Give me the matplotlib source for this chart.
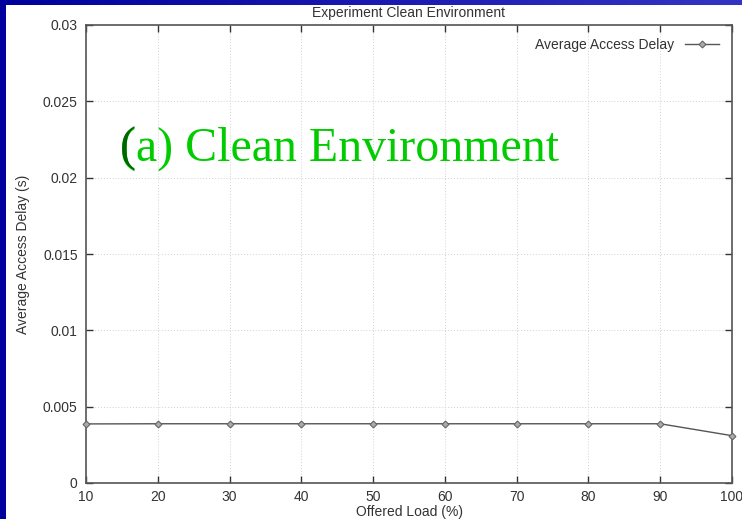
import numpy as np
import matplotlib
matplotlib.use('Agg')
import matplotlib.pyplot as plt
from matplotlib.patches import Rectangle

# data
offered_load = [10, 20, 30, 40, 50, 60, 70, 80, 90, 100]
avg_delay = [0.00387, 0.00388, 0.00388, 0.00388, 0.00388,
             0.00388, 0.00388, 0.00388, 0.00388, 0.0031]
y_ticks = [0, 0.005, 0.01, 0.015, 0.02, 0.025, 0.03]
y_tick_labels = ['0', '0.005', '0.01', '0.015', '0.02', '0.025', '0.03']

plt.rcParams['font.family'] = ['Liberation Sans', 'DejaVu Sans']

W, H = 742, 519
fig = plt.figure(figsize=(W / 100, H / 100), dpi=100)
fig.patch.set_facecolor('white')

# slide background: blue strip on the left, gradient band on top
fig.patches.append(Rectangle((0, 0), 6 / W, 1, transform=fig.transFigure,
                             facecolor='#00009c', edgecolor='none', zorder=-5))
grad = np.linspace(0, 1, 256).reshape(1, -1)
band = fig.add_axes([0, 1 - 5 / H, 1, 5 / H])
band.imshow(grad, aspect='auto', extent=[0, 1, 0, 1],
            cmap=matplotlib.colors.LinearSegmentedColormap.from_list(
                'b', ['#00009c', '#3434c4']))
band.axis('off')

ax = fig.add_axes([86 / W, (H - 483) / H, (732 - 86) / W, (483 - 25) / H])

ax.plot(offered_load, avg_delay, color='#555555', lw=1.0, marker='D',
        markersize=3.5, markerfacecolor='#aaaaaa', markeredgecolor='#666666',
        markeredgewidth=0.8, label='Average Access Delay', clip_on=False, zorder=3)

ax.set_xlim(10, 100)
ax.set_ylim(0, 0.03)
ax.set_xticks(offered_load)
ax.set_yticks(y_ticks)
ax.set_yticklabels(y_tick_labels)
ax.tick_params(direction='in', length=5, width=1, top=True, right=True,
               labelsize=10, colors='#333333', pad=6)
ax.tick_params(axis='x', pad=5)
for s in ax.spines.values():
    s.set_color('#555555')
    s.set_linewidth(1.2)
ax.grid(True, color='#d0d0d0', linestyle=(0, (1, 2)), linewidth=0.7)

ax.set_title('Experiment Clean Environment', fontsize=10, color='#333333', pad=6)
ax.set_xlabel('Offered Load (%)', fontsize=10, color='#333333', labelpad=1)
ax.set_ylabel('Average Access Delay (s)', fontsize=10, color='#333333', labelpad=9)

leg = ax.legend(loc='upper right', frameon=False, fontsize=10, markerfirst=False,
                handlelength=2.5, borderaxespad=0.5)
for t in leg.get_texts():
    t.set_color('#333333')

# slide caption; the opening bracket is a darker green in the reference
ax.text(0.053, 0.705, '(a) Clean Environment', transform=ax.transAxes,
        fontsize=34.5, color='#00cc00', family='Liberation Serif', va='baseline')
ax.text(0.053, 0.705, '(', transform=ax.transAxes,
        fontsize=34.5, color='#006600', family='Liberation Serif', va='baseline')

fig.savefig('out.png', dpi=100)
